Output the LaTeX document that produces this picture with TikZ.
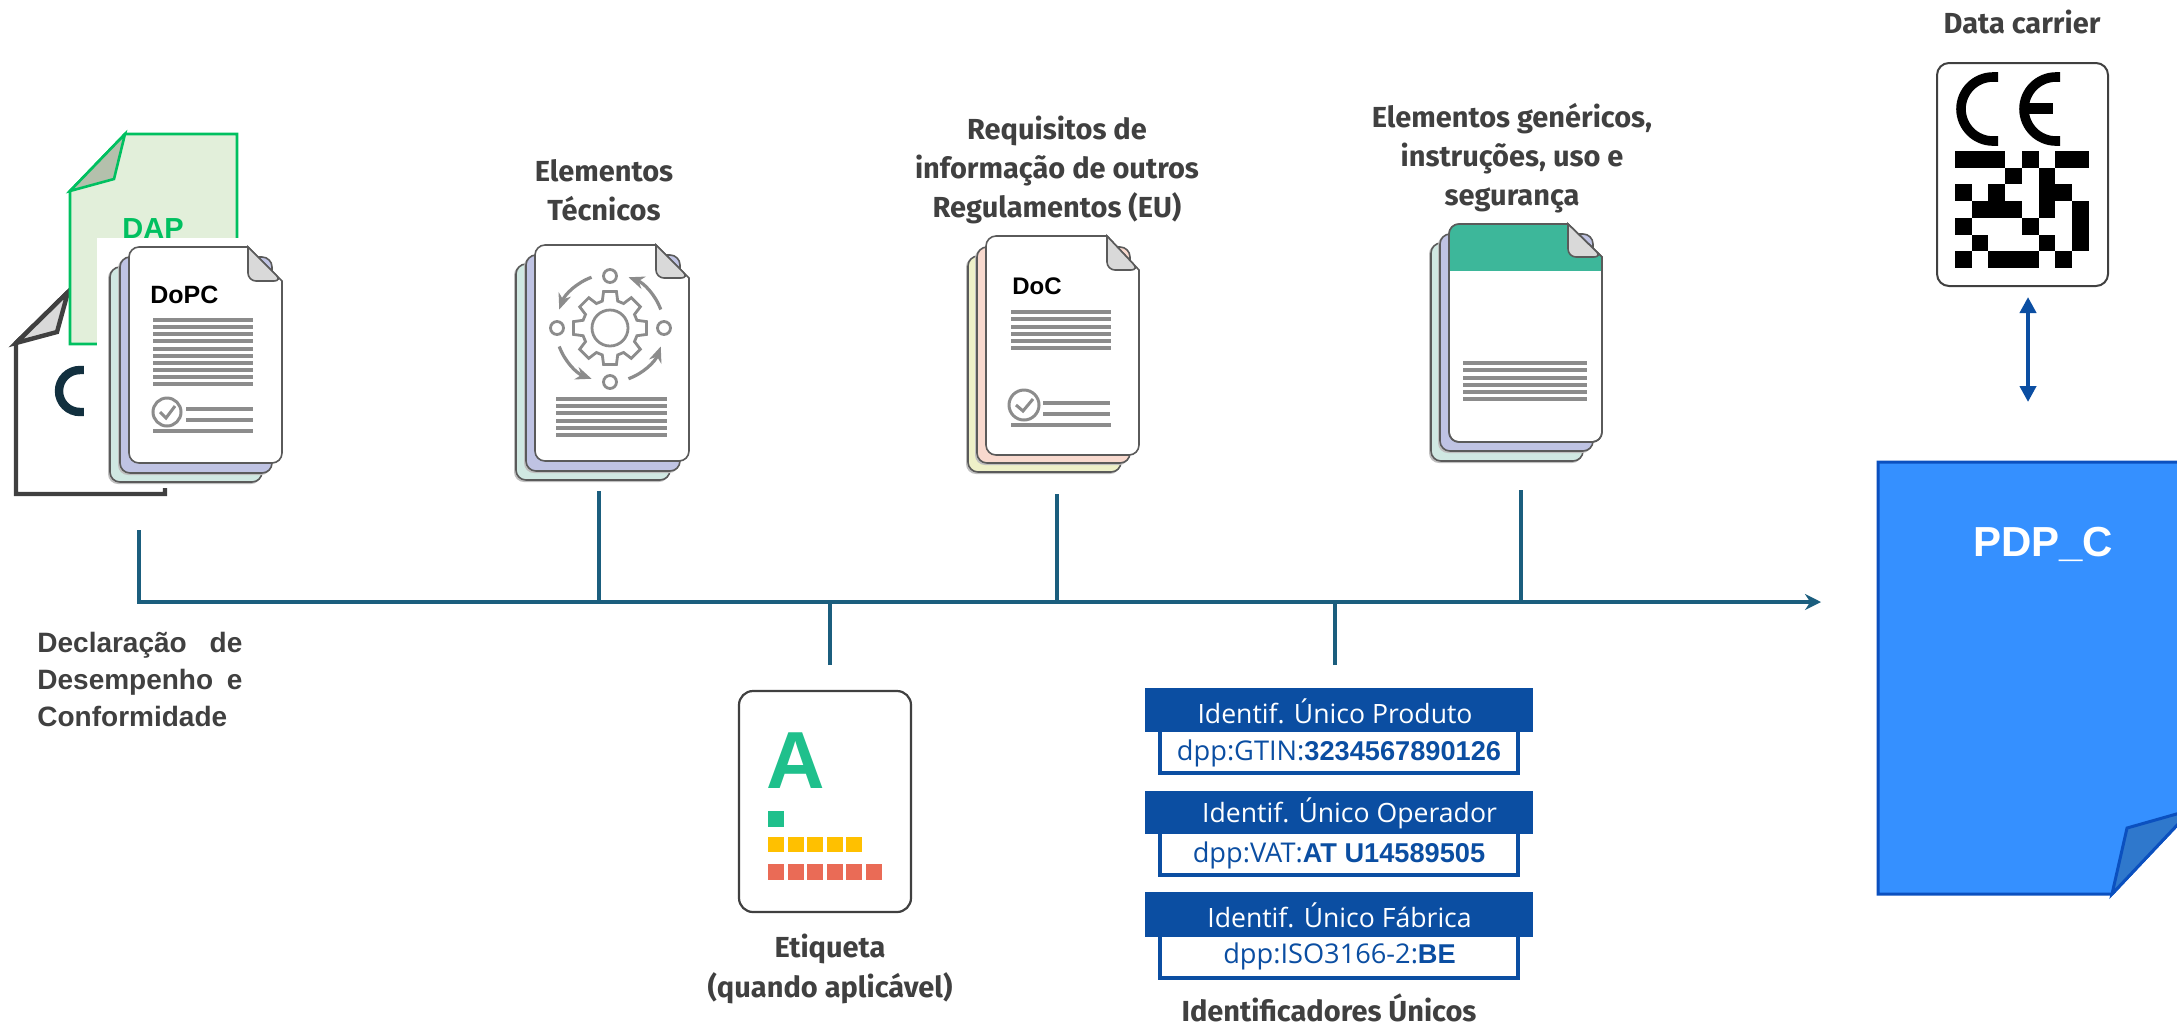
\documentclass[tikz,border=0pt]{standalone}
\usepackage{fontspec}
\setmainfont{Liberation Sans}
\newfontfamily\labf{Fira Sans}
\newfontfamily\idf{Open Sans}
\usetikzlibrary{arrows.meta}
\definecolor{axisc}{HTML}{1B5E7E}
\definecolor{idblue}{HTML}{0B4EA2}
\definecolor{labc}{HTML}{404040}
\definecolor{lineg}{HTML}{8C8C8C}
\definecolor{edgeg}{HTML}{5A5A5A}
\definecolor{foldg}{HTML}{D9D9D9}
\definecolor{mintc}{HTML}{D0E8E2}
\definecolor{lilac}{HTML}{BFC3E3}
\definecolor{pinkc}{HTML}{F8D9CE}
\definecolor{limec}{HTML}{EEF0C8}
\definecolor{dapg}{HTML}{00C060}
\definecolor{dapf}{HTML}{E2EFDA}
\definecolor{dapfold}{HTML}{B4C0AC}
\definecolor{ced}{HTML}{12303F}
\definecolor{darkp}{HTML}{404040}
\definecolor{tealh}{HTML}{3DB79A}
\definecolor{pdpf}{HTML}{3590FF}
\definecolor{pdpe}{HTML}{0B50BF}
\definecolor{pdpfold}{HTML}{2F78CC}
\definecolor{agreen}{HTML}{1FC08C}
\definecolor{aamber}{HTML}{FFC000}
\definecolor{ared}{HTML}{EA6B56}
\tikzset{
  sheetedge/.style={draw=edgeg,line width=.8pt},
  backsheet/.style={sheetedge,rounded corners=5pt},
  docline/.style={draw=lineg,line width=1.6pt},
  axisline/.style={draw=axisc,line width=2.1pt},
  lab/.style={text=labc,align=center,inner sep=0pt,font=\labf\bfseries\fontsize{14.5}{19.6}\selectfont},
  hdrtxt/.style={text=white,inner sep=0pt,font=\idf\fontsize{13.3}{13.3}\selectfont},
  idtxt/.style={text=idblue,inner sep=0pt,font=\fontsize{13.6}{13.6}\selectfont},
  idbox/.style={draw=idblue,line width=1.6pt,fill=white},
  iconline/.style={draw=lineg,line width=1.4pt},
  pix/.style={fill=black,draw=none}
}
\newcommand{\backs}[5]{%
  \fill[black!25,rounded corners=5pt] (#1-2,#2+1) rectangle (#3-1,#4+2);
  \draw[backsheet,fill=#5] (#1,#2) rectangle (#3,#4);}
\newcommand{\fronts}[6]{%
  \draw[sheetedge,fill=white,rounded corners=5pt] (#5,#2) -- (#1,#2) -- (#1,#4) -- (#3,#4) [sharp corners] -- (#3,#6) -- cycle;}
\newcommand{\foldc}[4]{%
  \draw[sheetedge,fill=foldg,rounded corners=4pt] (#1,#2) -- (#1,#4) -- (#3,#4) [sharp corners] -- cycle;}
\newcommand{\hls}[3]{\foreach \yy in {#3} {\draw[docline] (#1,\yy) -- (#2,\yy);}}
\begin{document}
\begin{tikzpicture}[x=0.5pt,y=-0.5pt]
\useasboundingbox (0,0) rectangle (2177,1030);

%% black page behind
\draw[draw=darkp,line width=2.2pt,fill=white] (165,488) -- (165,494) -- (16,494) -- (16,343) -- (68,292);
\draw[draw=darkp,line width=2.2pt,fill=foldg,line join=miter] (16,343) -- (57,332) -- (68,292) -- cycle;
\draw[draw=ced,line width=4.2pt] (84,370) -- (80,370) arc[start angle=-90,end angle=-270,radius=21] -- (84,412);
\fill[white] (84,345) rectangle (300,487);
%% green page
\draw[draw=dapg,line width=1.3pt,fill=dapf] (70,191) -- (125,134) -- (237,134) -- (237,344) -- (70,344) -- cycle;
\draw[draw=dapg,line width=1.3pt,fill=dapfold] (70,191) -- (114,179) -- (125,134) -- cycle;
\node[inner sep=0pt,anchor=base,text=dapg,font=\bfseries\fontsize{14.5}{14.5}\selectfont] (dap) at (153,238) {DAP};
\fill[white] (97,238) rectangle (290,487);

%% DoPC stack
\backs{110}{267}{262}{482}{mintc}
\backs{120}{257}{272}{473}{lilac}
\fronts{129}{247}{282}{463}{248}{281}
\foldc{248}{247}{282}{281}
\node[inner sep=0pt,anchor=base west,font=\bfseries\fontsize{12.5}{12.5}\selectfont] (dopc) at (150,303) {DoPC};
\hls{153}{253}{320,327,334,341,349,356,363,370,377,384,431}
\hls{186}{253}{409,420}
\draw[iconline,line width=1.5pt] (167,412) circle[radius=14];
\draw[iconline,line width=1.5pt] (160,412) -- (166,418) -- (175,406);

%% technical stack
\backs{516}{264}{670}{480}{mintc}
\backs{526}{255}{680}{471}{lilac}
\fronts{535}{245}{689}{461}{656}{278}
\foldc{656}{245}{689}{278}
\hls{556}{667}{399,406,413,421,428,435}
\begin{scope}[shift={(610,328)},x=0.5pt,y=0.5pt]
  \draw[iconline] (-16:28) \foreach \a in {0,45,...,315} { -- (\a-16:28) -- (\a-10:37) -- (\a+10:37) -- (\a+16:28)} -- cycle;
  \draw[iconline] (0,0) circle[radius=18];
  \draw[iconline] (0,52) circle[radius=6.5];
  \draw[iconline] (0,-54) circle[radius=6.5];
  \draw[iconline] (-53,0) circle[radius=6.5];
  \draw[iconline] (54,0) circle[radius=6.5];
  \foreach \s in {20,110,200,290} {
    \draw[iconline,line width=1.6pt,-{Stealth[length=8pt,width=6.5pt]}] (\s:54) arc[start angle=\s,delta angle=50,radius=54];
  }
\end{scope}

%% DoC stack
\backs{968}{256}{1121}{472}{limec}
\backs{977}{247}{1130}{463}{pinkc}
\fronts{986}{236}{1139}{455}{1107}{270}
\foldc{1107}{236}{1139}{270}
\node[inner sep=0pt,anchor=base west,font=\bfseries\fontsize{12}{12}\selectfont] (doc) at (1012,294) {DoC};
\hls{1011}{1111}{312,319,327,334,341,348,425}
\hls{1043}{1110}{403,414}
\draw[iconline,line width=1.5pt] (1024,405) circle[radius=15];
\draw[iconline,line width=1.5pt] (1016,405) -- (1023,411) -- (1033,399);

%% generic stack
\backs{1431}{243}{1583}{461}{mintc}
\backs{1440}{234}{1593}{451}{lilac}
\fronts{1449}{224}{1602}{442}{1568}{257}
\begin{scope}
  \clip[rounded corners=5pt] (1568,224) -- (1449,224) -- (1449,442) -- (1602,442) [sharp corners] -- (1602,257) -- cycle;
  \fill[tealh] (1449,224) rectangle (1602,271);
\end{scope}
\draw[sheetedge,rounded corners=5pt] (1568,224) -- (1449,224) -- (1449,442) -- (1602,442) [sharp corners] -- (1602,257) -- cycle;
\foldc{1568}{224}{1602}{257}
\hls{1463}{1587}{363,370,378,385,392,399}

%% axis
\coordinate (axstart) at (139,530);
\coordinate (axcorner) at (139,602);
\coordinate (axend) at (1821,602);
\coordinate (t1) at (599,491);
\coordinate (j1) at (599,602);
\coordinate (t2) at (1057,494);
\coordinate (j2) at (1057,602);
\coordinate (t3) at (1521,490);
\coordinate (j3) at (1521,602);
\coordinate (b1) at (830,665);
\coordinate (j4) at (830,602);
\coordinate (b2) at (1335,665);
\coordinate (j5) at (1335,602);
\draw[axisline,-{Stealth[length=8pt,width=8pt]}] (axstart) -- (axcorner) -- (axend);
\draw[axisline] (t1) -- (j1);
\draw[axisline] (t2) -- (j2);
\draw[axisline] (t3) -- (j3);
\draw[axisline] (b1) -- (j4);
\draw[axisline] (b2) -- (j5);

%% label card
\draw[draw=darkp,line width=1.1pt,fill=white,rounded corners=7pt] (739,691) rectangle (911,912);
\node[inner sep=0pt,anchor=base,text=agreen,font=\bfseries\fontsize{40.5}{40.5}\selectfont] (biga) at (795.5,788) {A};
\fill[agreen] (768,811) rectangle (784,827);
\foreach \i in {0,...,4} {\fill[aamber] ({768+19.6*\i},837) rectangle ++(16,15);}
\foreach \i in {0,...,5} {\fill[ared] ({768+19.6*\i},864) rectangle ++(16,16);}

%% identifier boxes
\draw[idbox] (1160,725) rectangle (1518,773);
\fill[idblue] (1145,688) rectangle (1533,732);
\node[hdrtxt] (h1) at (1335,711) {Identif. Único Produto};
\node[idtxt] (i1) at (1339,753) {{\idf dpp:GTIN:}\textbf{3234567890126}};
\draw[idbox] (1160,828) rectangle (1518,875);
\fill[idblue] (1145,791) rectangle (1533,834);
\node[hdrtxt] (h2) at (1349.5,813) {Identif. Único Operador};
\node[idtxt] (i2) at (1339,855) {{\idf dpp:VAT:}\textbf{AT U14589505}};
\draw[idbox] (1160,930) rectangle (1518,978);
\fill[idblue] (1145,892) rectangle (1533,937);
\node[hdrtxt] (h3) at (1339.5,915) {Identif. Único Fábrica};
\node[idtxt] (i3) at (1339.5,956) {{\idf dpp:ISO3166-2:}\textbf{BE}};

%% labels
\node[lab] (l1) at (604,190) {Elementos\\Técnicos};
\node[lab] (l2) at (1057,170) {Requisitos de\\informação de outros\\Regulamentos (EU)};
\node[lab] (l3) at (1512,158) {Elementos genéricos,\\instruções, uso e\\segurança};
\node[lab] (l4) at (2022,22) {Data carrier};
\node[lab] (l5) at (830,969) {Etiqueta\\(quando aplicável)};
\node[lab] (l6) at (1329,1008) {Identificadores Únicos};
\node[text=labc,inner sep=0pt,anchor=north west,align=left,font=\bfseries\fontsize{14}{18.4}\selectfont] (l7) at (37,632)
  {\makebox[102.5pt][s]{Declaração\hfill de}\\\makebox[102.5pt][s]{Desempenho\hfill e}\\Conformidade};

%% CE card
\draw[draw=darkp,line width=1pt,fill=white,rounded corners=6pt] (1937,63) rectangle (2108,286);
\draw[line width=4.8pt] (1998,77) -- (1993,77) arc[start angle=-90,end angle=-270,radius=32] -- (1998,141);
\draw[line width=4.8pt] (2060,77) -- (2056,77) arc[start angle=-90,end angle=-270,radius=32] -- (2060,141);
\fill (2024,103) rectangle (2053,114);
\begin{scope}[shift={(1955,151)},x=8.35pt,y=-8.35pt]
  \foreach \c/\r/\w in {0/0/3,4/0/1,6/0/2,3/1/1,5/1/1,0/2/1,2/2/1,5/2/2,1/3/3,5/3/1,7/3/1,0/4/1,4/4/1,7/4/1,1/5/1,5/5/1,7/5/1,0/6/1,2/6/3,6/6/1} {
    \fill[pix] (\c,\r) rectangle ++(\w,1);
  }
\end{scope}

%% double arrow
\coordinate (daTop) at (2028,297);
\coordinate (daBot) at (2028,402);
\draw[draw=idblue,fill=idblue,line width=2pt,{Stealth[length=8pt,width=8pt,inset=0pt]}-{Stealth[length=8pt,width=8pt,inset=0pt]}] (daTop) -- (daBot);

%% PDP_C page
\draw[draw=pdpe,line width=1.5pt,fill=pdpf] (2180,462) -- (1878,462) -- (1878,894) -- (2112,894) -- (2180,822);
\draw[draw=pdpe,line width=1.5pt,fill=pdpfold] (2112,894) -- (2127,828) -- (2180,813) -- (2180,822) -- cycle;
\node[inner sep=0pt,text=white,font=\bfseries\fontsize{21}{21}\selectfont] (pdp) at (2043,544) {PDP\_C};
\end{tikzpicture}
\end{document}
